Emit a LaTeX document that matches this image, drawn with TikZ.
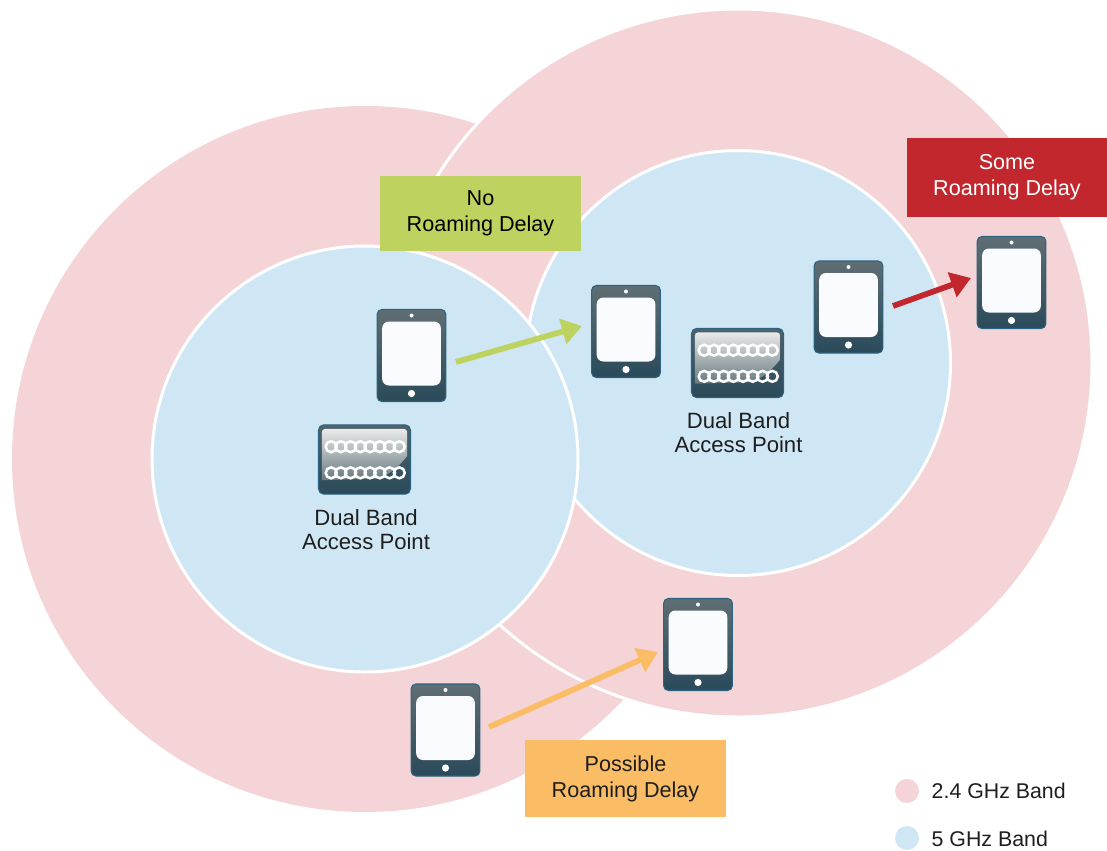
\documentclass[tikz,border=0pt]{standalone}
\usepackage{fontspec}
\setmainfont{Liberation Sans}
\usetikzlibrary{arrows.meta}
\definecolor{pinkband}{HTML}{F4D4D6}
\definecolor{blueband}{HTML}{CFE7F4}
\definecolor{devedge}{HTML}{2B6480}
\definecolor{devtop}{HTML}{5F6E73}
\definecolor{devbot}{HTML}{2A4A5A}
\definecolor{glosstop}{HTML}{EDEDED}
\definecolor{glossbot}{HTML}{66797F}
\definecolor{screenc}{HTML}{FAFBFE}
\definecolor{greenc}{HTML}{BDD25F}
\definecolor{redc}{HTML}{C1272D}
\definecolor{orangec}{HTML}{FBBC66}
\definecolor{inkc}{HTML}{1E1E1E}
\tikzset{
  band/.style={draw=white,line width=2.25pt},
  tabletbody/.style={draw=devedge,line width=0.8pt,rounded corners=3.5pt,top color=devtop,bottom color=devbot,minimum width=51.5pt,minimum height=69pt,inner sep=0pt},
  tabletscreen/.style={fill=screenc,rounded corners=5pt,minimum width=44pt,minimum height=48pt,inner sep=0pt},
  dotw/.style={circle,fill=white,inner sep=0pt},
  apbody/.style={draw=devedge,line width=0.8pt,rounded corners=4pt,top color=devtop!70!devbot,bottom color=devbot,minimum width=69pt,minimum height=52pt,inner sep=0pt},
  ring/.style={circle,draw=white,line width=1.9pt,minimum size=8.2pt,inner sep=0pt},
  tag/.style={minimum width=150.5pt,inner sep=0pt,align=center,font=\fontsize{16.2}{19.5}\selectfont},
  lab/.style={align=center,text=inkc,font=\fontsize{16.6}{18}\selectfont},
  legtext/.style={anchor=west,text=inkc,font=\fontsize{16}{18}\selectfont},
  conn/.style={line width=4.3pt,-{Triangle[length=15pt,width=19pt]}},
}
\newcommand{\tablet}[2]{%
  \node[tabletbody] (#1) at (#2) {};
  \node[tabletscreen] (#1s) at ([yshift=1.5pt]#1.center) {};
  \node[dotw,minimum size=3pt] (#1c) at ([yshift=30pt]#1.center) {};
  \node[dotw,minimum size=5.4pt] (#1b) at ([yshift=-28.5pt]#1.center) {};
}
\newcommand{\accesspoint}[2]{%
  \node[apbody] (#1) at (#2) {};
  \begin{scope}
    \clip[rounded corners=2.5pt] ([xshift=-32pt,yshift=23pt]#1.center) rectangle ([xshift=32pt,yshift=-23pt]#1.center);
    \shade[top color=glosstop,bottom color=glossbot]
      ([xshift=-33pt,yshift=24pt]#1.center) -- ([xshift=33pt,yshift=24pt]#1.center)
      -- ([xshift=33pt,yshift=4pt]#1.center)
      .. controls ([xshift=24pt,yshift=-8pt]#1.center) and ([xshift=16pt,yshift=-13pt]#1.center) .. ([xshift=8pt,yshift=-14.5pt]#1.center) -- ([xshift=-33pt,yshift=-15.5pt]#1.center) -- cycle;
  \end{scope}
  \foreach \i in {0,...,7}{
    \node[ring] (#1u\i) at ([xshift=-25pt+\i*7.3pt,yshift=9.6pt]#1.center) {};
    \node[ring] (#1l\i) at ([xshift=-25pt+\i*7.3pt,yshift=-10pt]#1.center) {};
  }
}
\begin{document}
\begin{tikzpicture}[x=0.75pt,y=-0.75pt]
\useasboundingbox[fill=white] (0,0) rectangle (1107,850);
% bands
\fill[pinkband] (365,459) circle (353);
\draw[band,fill=pinkband] (738,363) circle (354);
\draw[band,fill=blueband] (738,363) circle (212.5);
\draw[band,fill=blueband] (365,459) circle (213);
% access points
\accesspoint{apL}{364.5,459.5}
\accesspoint{apR}{737.5,363}
\node[lab] (apLt) at (366,530) {Dual Band\\Access Point};
\node[lab] (apRt) at (738.5,433) {Dual Band\\Access Point};
% tablets
\tablet{ta}{411.5,355.5}
\tablet{tb}{626,331.5}
\tablet{tc}{848.5,307}
\tablet{td}{1011.5,282.5}
\tablet{te}{698,644.5}
\tablet{tf}{445.5,730}
% connectors
\coordinate (gA) at (456,362);
\coordinate (gB) at (582,326);
\coordinate (rA) at (893,306);
\coordinate (rB) at (971,278);
\coordinate (oA) at (489,727);
\coordinate (oB) at (658,652);
\draw[conn,greenc] (gA) -- (gB);
\draw[conn,redc] (rA) -- (rB);
\draw[conn,orangec] (oA) -- (oB);
% tags
\node[tag,fill=greenc,text=black,minimum height=56.5pt] (tagG) at (480.5,213.5) {No\\Roaming Delay};
\node[tag,fill=redc,text=white,minimum height=59pt] (tagR) at (1007,177.5) {Some\\Roaming Delay};
\node[tag,fill=orangec,text=inkc,minimum height=58pt] (tagO) at (625.5,778.5) {Possible\\Roaming Delay};
% legend
\node[circle,fill=pinkband,minimum size=18pt,inner sep=0pt] (leg1) at (907,791) {};
\node[circle,fill=blueband,minimum size=18pt,inner sep=0pt] (leg2) at (907,838) {};
\node[legtext] (leg1t) at (927,791) {2.4 GHz Band};
\node[legtext] (leg2t) at (927,838.5) {5 GHz Band};
\end{tikzpicture}
\end{document}
